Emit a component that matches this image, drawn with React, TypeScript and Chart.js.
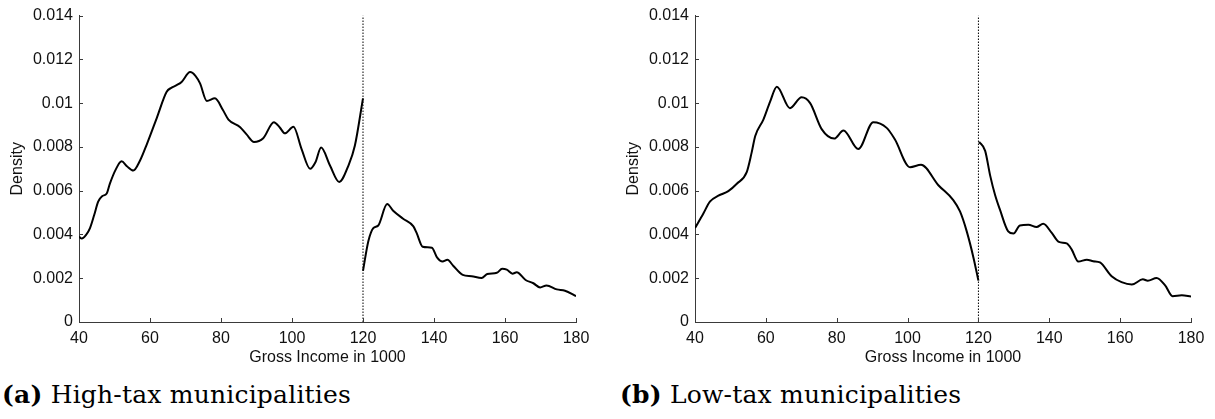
import React, { useEffect, useRef } from 'react';
import { Chart, registerables } from 'chart.js';

Chart.register(...registerables);

// ---------- data ----------
const highBelowX = [40, 40.8, 42, 43.1, 44.3, 45.4, 46.5, 47.8, 48.7, 50.3, 52, 53.5, 55.3, 57.2, 59.1, 61.9, 64.7, 66, 67.5, 68.9, 71.3, 72.8, 74.1, 76, 78.3, 80.5, 82.1, 85.4, 87.2, 89.3, 91.9, 94.9, 96.5, 98, 100.4, 102.7, 105.1, 106.6, 108.2, 110.7, 113.3, 115.9, 117.7, 120];
const highBelowY = [0.0039, 0.00381, 0.00398, 0.00429, 0.0049, 0.0055, 0.00575, 0.00587, 0.00632, 0.00695, 0.00734, 0.00712, 0.00692, 0.00738, 0.00812, 0.00932, 0.01052, 0.0107, 0.01082, 0.01097, 0.01142, 0.01125, 0.0109, 0.0101, 0.01022, 0.0097, 0.00925, 0.0089, 0.00857, 0.00823, 0.0084, 0.00913, 0.0089, 0.00862, 0.00892, 0.0079, 0.007, 0.0073, 0.00797, 0.00715, 0.0064, 0.00715, 0.00805, 0.01022];
const highAboveX = [120, 121.5, 122.9, 124.3, 126.8, 128.5, 131.3, 134.2, 135.1, 136.8, 139.4, 140.9, 142.4, 143.8, 145.4, 148.1, 150.6, 153.4, 155, 157.7, 159.2, 160.5, 162.1, 163.3, 165.8, 168, 169.9, 171.7, 174.6, 176.9, 180];
const highAboveY = [0.00234, 0.00369, 0.00429, 0.00441, 0.00539, 0.00508, 0.00472, 0.00437, 0.00407, 0.00344, 0.00339, 0.00294, 0.00276, 0.00284, 0.00257, 0.00215, 0.00209, 0.00201, 0.00219, 0.00225, 0.00243, 0.00239, 0.00221, 0.00227, 0.00192, 0.00177, 0.00158, 0.00167, 0.00149, 0.00143, 0.00118];

const lowBelowX = [40, 42.4, 44.2, 46.6, 49.4, 51.8, 54.6, 56, 57, 59.3, 61.2, 63.1, 66.8, 70.1, 72.5, 75.8, 79.3, 81.9, 86.1, 90.3, 94.1, 96.4, 100.7, 103.8, 108.7, 112.9, 114.8, 116.7, 118.6, 120];
const lowBelowY = [0.00429, 0.00497, 0.0055, 0.00577, 0.00598, 0.00632, 0.00685, 0.00775, 0.0085, 0.00925, 0.01007, 0.01075, 0.00977, 0.01027, 0.01, 0.0088, 0.00838, 0.00875, 0.0079, 0.00913, 0.00887, 0.00835, 0.00707, 0.00718, 0.00625, 0.00557, 0.00505, 0.00414, 0.00294, 0.00189];
const lowAboveX = [120.2, 121.9, 123.3, 124.7, 126.1, 128.4, 129.9, 131.7, 134.1, 136.4, 138.3, 140.7, 142.7, 144.9, 146.3, 148.2, 150.6, 152.4, 154.3, 157.6, 160.4, 163.3, 166.4, 167.8, 170.3, 172.7, 174.8, 177.4, 180];
const lowAboveY = [0.00823, 0.00782, 0.0067, 0.0058, 0.00512, 0.00414, 0.00404, 0.00441, 0.00444, 0.00434, 0.00449, 0.00407, 0.00366, 0.00359, 0.00332, 0.00276, 0.00285, 0.00278, 0.00272, 0.00209, 0.00182, 0.00171, 0.00195, 0.00189, 0.00201, 0.00167, 0.00118, 0.00122, 0.00117];

const cutoffX = [120, 120];
const cutoffY = [0, 0.014];

const yTickLabels = ['0', '0.002', '0.004', '0.006', '0.008', '0.01', '0.012', '0.014'];
const xLabel = 'Gross Income in 1000';
const yLabel = 'Density';
const captionA = ['(a)', 'High-tax municipalities'];
const captionB = ['(b)', 'Low-tax municipalities'];

// ---------- styling ----------
const AXIS = '#3a3a3a';
const FONT = "'Liberation Sans', Arial, Helvetica, sans-serif";

const toPts = (xs: number[], ys: number[]) => xs.map((x, i) => ({ x, y: ys[i] }));

const innerTicks = {
  id: 'innerTicks',
  afterDraw(chart: any) {
    const { ctx, chartArea, scales } = chart;
    ctx.save();
    ctx.strokeStyle = AXIS;
    ctx.lineWidth = 1;
    scales.x.ticks.forEach((t: any) => {
      const px = Math.round(scales.x.getPixelForValue(t.value)) + 0.5;
      ctx.beginPath();
      ctx.moveTo(px, chartArea.bottom);
      ctx.lineTo(px, chartArea.bottom - 4);
      ctx.stroke();
    });
    scales.y.ticks.forEach((t: any) => {
      const py = Math.round(scales.y.getPixelForValue(t.value)) + 0.5;
      ctx.beginPath();
      ctx.moveTo(chartArea.left, py);
      ctx.lineTo(chartArea.left + 4, py);
      ctx.stroke();
    });
    ctx.restore();
  },
};

function DensityChart(props: { bx: number[]; by: number[]; ax: number[]; ay: number[]; width: number; height: number }) {
  const ref = useRef<HTMLCanvasElement | null>(null);
  useEffect(() => {
    if (!ref.current) return;
    const line = { borderColor: '#000', borderWidth: 2, pointRadius: 0, fill: false, cubicInterpolationMode: 'monotone' as const };
    const chart = new Chart(ref.current, {
      type: 'line',
      data: {
        datasets: [
          { ...line, data: toPts(props.bx, props.by) },
          { ...line, data: toPts(props.ax, props.ay) },
          { data: toPts(cutoffX, cutoffY), borderColor: '#000', borderWidth: 1, borderDash: [1.5, 1.5], pointRadius: 0, fill: false, tension: 0 },
        ],
      },
      options: {
        responsive: false,
        animation: false,
        events: [],
        layout: { padding: { top: 11, right: 24, left: 0, bottom: 0 } },
        plugins: { legend: { display: false }, tooltip: { enabled: false } },
        scales: {
          x: {
            type: 'linear',
            min: 40,
            max: 180,
            grid: { display: false, drawTicks: false },
            border: { display: true, color: AXIS, width: 1 },
            ticks: { stepSize: 20, padding: 7, color: '#111', font: { family: FONT, size: 16 }, maxRotation: 0 },
            title: { display: true, text: xLabel, color: '#111', font: { family: FONT, size: 16 }, padding: { top: 0, bottom: 3 } },
            afterFit: (s: any) => { s.height = 48; },
          },
          y: {
            type: 'linear',
            min: 0,
            max: 0.014,
            grid: { display: false, drawTicks: false },
            border: { display: true, color: AXIS, width: 1 },
            ticks: {
              stepSize: 0.002,
              padding: 6,
              color: '#111',
              font: { family: FONT, size: 16 },
              callback: (v: any) => yTickLabels[Math.round(Number(v) / 0.002)] ?? '',
            },
            title: { display: true, text: yLabel, color: '#111', font: { family: FONT, size: 16 }, padding: { top: 8, bottom: 0 } },
            afterFit: (s: any) => { s.width = 79; },
          },
        },
      },
      plugins: [innerTicks],
    });
    return () => chart.destroy();
  }, []);
  return <canvas ref={ref} width={props.width} height={props.height} style={{ width: props.width, height: props.height, display: 'block' }} />;
}

const captionStyle: React.CSSProperties = {
  position: 'absolute',
  top: 381,
  fontFamily: "'DejaVu Serif', serif",
  fontSize: 25,
  lineHeight: '28px',
  letterSpacing: '0.2px',
  color: '#000',
  whiteSpace: 'nowrap',
};

export default function App() {
  useEffect(() => {
    document.body.style.margin = '0';
  }, []);
  return (
    <div style={{ position: 'absolute', left: 0, top: 0, width: 1215, height: 419, background: '#fff', overflow: 'hidden' }}>
      <div style={{ position: 'absolute', left: 0, top: 0 }}>
        <DensityChart bx={highBelowX} by={highBelowY} ax={highAboveX} ay={highAboveY} width={600} height={370} />
      </div>
      <div style={{ position: 'absolute', left: 616, top: 0 }}>
        <DensityChart bx={lowBelowX} by={lowBelowY} ax={lowAboveX} ay={lowAboveY} width={599} height={370} />
      </div>
      <div style={{ ...captionStyle, left: 2 }}>
        <b>{captionA[0]}</b> {captionA[1]}
      </div>
      <div style={{ ...captionStyle, left: 620 }}>
        <b>{captionB[0]}</b> {captionB[1]}
      </div>
    </div>
  );
}
